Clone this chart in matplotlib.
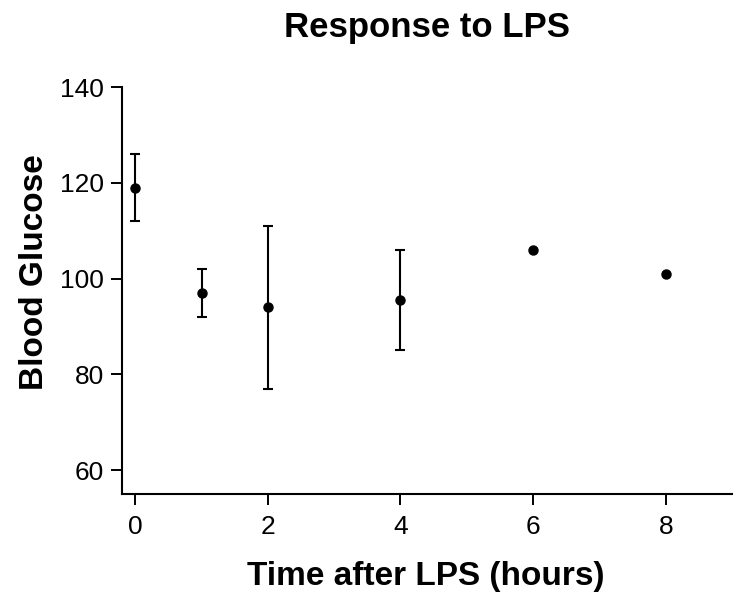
import numpy as np
import matplotlib
matplotlib.use("Agg")
import matplotlib.pyplot as plt

# Data
hours = [0, 1, 2, 4, 6, 8]
glucose = [119, 97, 94, 95.5, 106, 101]
err = [7, 5, 17, 10.5, 0, 0]

plt.rcParams['font.family'] = ['Liberation Sans', 'DejaVu Sans']

fig = plt.figure(figsize=(7.34, 5.94), dpi=100)
ax = fig.add_axes([122 / 734, 1 - 494 / 594, 610 / 734, (494 - 87.3) / 594])

x = np.array(hours)
y = np.array(glucose)
e = np.array(err)
has_err = e > 0
# error bars only where there is a spread (Prism hides zero-length bars)
ax.errorbar(x[has_err], y[has_err], yerr=e[has_err], fmt='none', ecolor='black',
            elinewidth=1.5, capsize=3.7, capthick=1.5)
ax.plot(x, y, 'o', color='black', ms=6.5)

ax.set_xlim(-0.2, 9)
ax.set_ylim(55, 140)
ax.set_xticks([0, 2, 4, 6, 8])
ax.set_yticks([60, 80, 100, 120, 140])

for s in ['top', 'right']:
    ax.spines[s].set_visible(False)
for s in ['left', 'bottom']:
    ax.spines[s].set_linewidth(1.5)

ax.tick_params(direction='out', length=8.2, width=1.4, labelsize=19)
ax.tick_params(axis='x', pad=7)
ax.tick_params(axis='y', pad=5)

ax.set_title('Response to LPS', fontsize=25, fontweight='bold', y=1.1244, pad=0)
ax.set_xlabel('Time after LPS (hours)', fontsize=24, fontweight='bold', va='baseline')
ax.xaxis.set_label_coords(0.4985, -0.2238)
ax.set_ylabel('Blood Glucose', fontsize=24, fontweight='bold', va='baseline')
ax.yaxis.set_label_coords(-0.1295, 0.545)

plt.savefig('out.png', dpi=100)
